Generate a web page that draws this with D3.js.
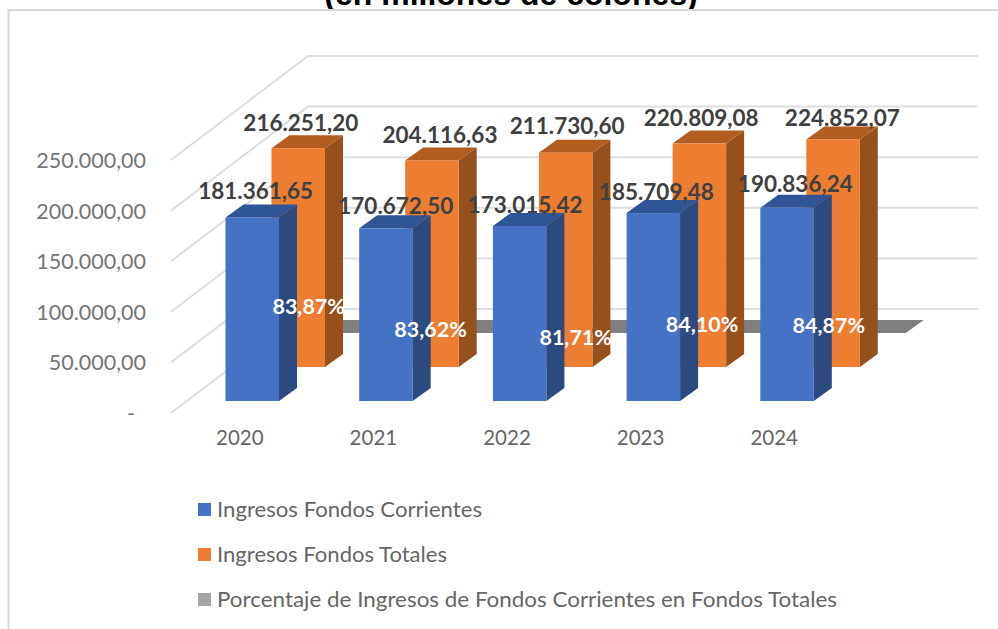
<!DOCTYPE html>
<html><head><meta charset="utf-8">
<script src="https://cdn.jsdelivr.net/npm/d3@7"></script>
<style>html,body{margin:0;padding:0;background:#fff;overflow:hidden}svg{display:block}text{font-family:Lato,"Open Sans",sans-serif}</style>
</head><body><svg id="c" width="998" height="629"></svg>
<script>
const categories = ["2020","2021","2022","2023","2024"];
const corrientes = [181361.65,170672.50,173015.42,185709.48,190836.24];
const totales = [216251.20,204116.63,211730.60,220809.08,224852.07];
const porcentaje = [83.87,83.62,81.71,84.10,84.87];
const yTicks = [0,50000,100000,150000,200000,250000];
const legendLabels = ["Ingresos Fondos Corrientes","Ingresos Fondos Totales","Porcentaje de Ingresos de Fondos Corrientes en Fondos Totales"];
const titleText = "(en millones de colones)";
// manual data-label nudges (dx from bar centre, dy above bar top)
const blueNudge = [[3.4,18],[9.8,14],[5.5,13.4],[3,13.3],[8.3,16]];
const orangeNudge = [[2.6,17.4],[8,17.7],[1.5,18.7],[1.8,18],[9.3,13.8]];
const pctPos = [[308.7,314],[430.5,337.3],[575.7,345],[702,331.7],[828.8,333.3]];

const es = d3.formatLocale({decimal:",",thousands:".",grouping:[3],currency:["",""]});
const fmt = es.format(",.2f");
const svg = d3.select("#c");

const y = d3.scaleLinear().domain([0,250000]).range([413,160]);
const x = d3.scaleBand().domain(categories).range([225.5,225.5+133.7*5]);
const barW = 53.5, depthX = 18, depthY = 13, rowX = 46, rowY = 34, floorShift = 12;
const wallDX = 137, wallDY = 104, wallRight = 978;

// title (cropped by the page top and by the chart frame)
svg.append("text").text(titleText).attr("x",511).attr("y",5).attr("text-anchor","middle")
  .style("font-family","'Liberation Sans',Arial,sans-serif").style("font-weight","700").style("font-size","32px").attr("fill","#000");
svg.append("rect").attr("x",8).attr("y",10).attr("width",990).attr("height",619).attr("fill","#fff");

// frame
svg.append("path").attr("d","M998,10H8.5V629").attr("fill","none").attr("stroke","#d9d9d9").attr("stroke-width",2);

// gridlines
const grid = svg.append("g").attr("fill","none").attr("stroke","#dedede").attr("stroke-width",2);
yTicks.forEach(t=>{
  const y0=y(t);
  grid.append("path").attr("d",`M171,${y0}L${171+wallDX},${y0-wallDY}H${wallRight}`);
});

// axes
const yAxis = d3.axisLeft(y).tickValues(yTicks).tickSize(0).tickPadding(0).tickFormat(d=>d===0?"-":fmt(d));
const gy = svg.append("g").attr("transform","translate(146,0)").call(yAxis);
gy.select(".domain").remove();
gy.selectAll("text").style("font-family","Lato,sans-serif").style("font-size","21.5px").attr("fill","#757575").attr("dy","0.35em");
gy.selectAll("text").filter(d=>d===0).attr("x",-11);

const xCat = d3.scaleBand().domain(categories).range([173,841]);
const gx = svg.append("g").attr("transform","translate(0,430)").call(d3.axisBottom(xCat).tickSize(0).tickPadding(0));
gx.select(".domain").remove();
gx.selectAll("text").style("font-family","Lato,sans-serif").style("font-size","20.5px").attr("fill","#666").attr("dy","0.71em");

function box(g,cat,val,row,c){
  const x0 = x(cat)+row*rowX;
  const yb = y(0)-floorShift-row*rowY;
  const h = y(0)-y(val);
  const yt = yb-h;
  g.append("path").attr("d",`M${x0+barW},${yt}l${depthX},${-depthY}v${h}l${-depthX},${depthY}z`).attr("fill",c.side);
  g.append("path").attr("d",`M${x0},${yt}l${depthX},${-depthY}h${barW}l${-depthX},${depthY}z`).attr("fill",c.top);
  g.append("rect").attr("x",x0).attr("y",yt).attr("width",barW).attr("height",h).attr("fill",c.front);
  return {cx:x0+barW/2,yt};
}
const marks = svg.append("g");
const cGrey={front:"#7f7f7f",side:"#7f7f7f",top:"#7f7f7f"},
      cOrange={front:"#ed7d31",side:"#96501c",top:"#b25c20"},
      cBlue={front:"#4472c4",side:"#2a4a80",top:"#2f5597"};
categories.forEach((c,i)=>box(marks,c,porcentaje[i],2,cGrey));
const oPos = categories.map((c,i)=>box(marks,c,totales[i],1,cOrange));
const bPos = categories.map((c,i)=>box(marks,c,corrientes[i],0,cBlue));

// data labels
const lab = svg.append("g").style("font-weight","700").style("font-size","22.5px").attr("fill","#404040").attr("text-anchor","middle");
categories.forEach((c,i)=>{
  lab.append("text").text(fmt(totales[i])).attr("x",oPos[i].cx+orangeNudge[i][0]).attr("y",oPos[i].yt-orangeNudge[i][1]);
  lab.append("text").text(fmt(corrientes[i])).attr("x",bPos[i].cx+blueNudge[i][0]).attr("y",bPos[i].yt-blueNudge[i][1]);
  lab.append("text").text(es.format(".2f")(porcentaje[i])+"%").attr("x",pctPos[i][0]).attr("y",pctPos[i][1]).attr("fill","#fff").style("font-size","21.5px");
});

// legend
const legendW=[265,230,620], legendC=["#4472c4","#ed7d31","#a5a5a5"];
const leg = svg.append("g");
legendLabels.forEach((t,i)=>{
  const yy = 510+45*i;
  leg.append("rect").attr("x",198).attr("y",yy-7).attr("width",13).attr("height",13).attr("fill",legendC[i]);
  leg.append("text").text(t).attr("x",217).attr("y",yy+7).attr("fill","#666").style("font-size","20.5px")
    .attr("textLength",legendW[i]).attr("lengthAdjust","spacingAndGlyphs");
});
</script></body></html>
